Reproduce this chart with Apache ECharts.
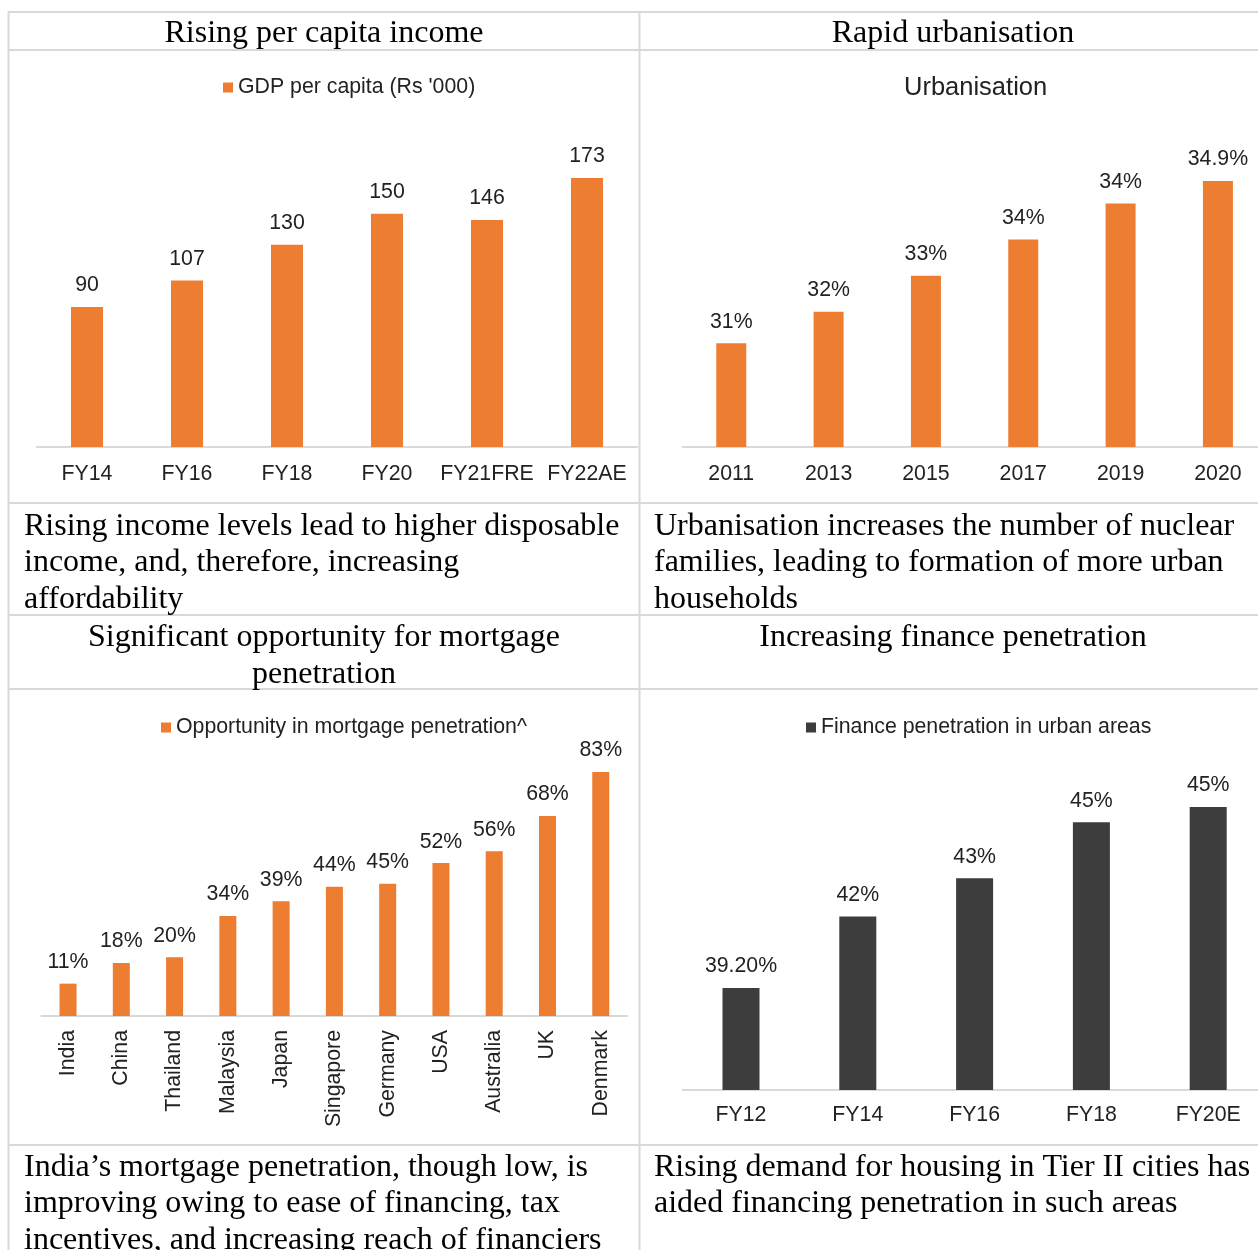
<!DOCTYPE html>
<html>
<head>
<meta charset="utf-8">
<script src="https://cdn.jsdelivr.net/npm/echarts@6/dist/echarts.min.js"></script>
<style>
html,body{margin:0;padding:0;background:#fff;overflow:hidden;width:1258px;height:1250px;}
#c{width:1272px;height:1250px;}
</style>
</head>
<body>
<div id="c"></div>
<script>
// ---------- data ----------
const incomeName = "GDP per capita (Rs '000)";
const incomeCats = ['FY14', 'FY16', 'FY18', 'FY20', 'FY21FRE', 'FY22AE'];
const incomeVals = [90, 107, 130, 150, 146, 173];

const urbanTitle = 'Urbanisation';
const urbanCats = ['2011', '2013', '2015', '2017', '2019', '2020'];
const urbanVals = [31.3, 32.0, 32.8, 33.6, 34.4, 34.9];
const urbanLabels = ['31%', '32%', '33%', '34%', '34%', '34.9%'];

const mortgageName = 'Opportunity in mortgage penetration^';
const mortgageCats = ['India', 'China', 'Thailand', 'Malaysia', 'Japan', 'Singapore', 'Germany', 'USA', 'Australia', 'UK', 'Denmark'];
const mortgageVals = [11, 18, 20, 34, 39, 44, 45, 52, 56, 68, 83];

const financeName = 'Finance penetration in urban areas';
const financeCats = ['FY12', 'FY14', 'FY16', 'FY18', 'FY20E'];
const financeVals = [39.2, 42.0, 43.5, 45.7, 46.3];
const financeLabels = ['39.20%', '42%', '43%', '45%', '45%'];

const headers = ['Rising per capita income', 'Rapid urbanisation',
  ['Significant opportunity for mortgage', 'penetration'], ['Increasing finance penetration']];
const captions = [
  ['Rising income levels lead to higher disposable', 'income, and, therefore, increasing', 'affordability'],
  ['Urbanisation increases the number of nuclear', 'families, leading to formation of more urban', 'households'],
  ['India\u2019s mortgage penetration, though low, is', 'improving owing to ease of financing, tax', 'incentives, and increasing reach of financiers'],
  ['Rising demand for housing in Tier II cities has', 'aided financing penetration in such areas']
];

// ---------- styles ----------
const ORANGE = '#ED7D31';
const DARK = '#3D3D3D';
const SANS = '"Liberation Sans", Arial, sans-serif';
const SERIF = '"Liberation Serif", "Times New Roman", serif';
const TXT = '#222';
const GRID_LINE = '#d9d9d9';
const FS = 21.3;

// ---------- table graphics ----------
const graphics = [];
function hline(y) {
  graphics.push({type: 'line', shape: {x1: 8, y1: y, x2: 1272, y2: y}, style: {stroke: GRID_LINE, lineWidth: 2}, silent: true});
}
function vline(x) {
  graphics.push({type: 'line', shape: {x1: x, y1: 11, x2: x, y2: 1250}, style: {stroke: GRID_LINE, lineWidth: 2}, silent: true});
}
[12, 50, 503, 615, 689, 1145].forEach(hline);
[8.5, 639.5].forEach(vline);

function text(str, x, y, align) {
  graphics.push({type: 'text', x: x, y: y, silent: true,
    style: {text: str, fontFamily: SERIF, fontSize: 32, fill: '#000', align: align, verticalAlign: 'middle'}});
}
const LH = 36.5;
text(headers[0], 324, 34, 'center');
text(headers[1], 953, 34, 'center');
headers[2].forEach((t, i) => text(t, 324, 638 + i * LH, 'center'));
headers[3].forEach((t, i) => text(t, 953, 638 + i * LH, 'center'));
captions[0].forEach((t, i) => text(t, 24, 526.5 + i * LH, 'left'));
captions[1].forEach((t, i) => text(t, 654, 526.5 + i * LH, 'left'));
captions[2].forEach((t, i) => text(t, 24, 1167.5 + i * LH, 'left'));
captions[3].forEach((t, i) => text(t, 654, 1167.5 + i * LH, 'left'));

// ---------- axes helpers ----------
function xAx(idx, cats, margin, rotate) {
  return {
    type: 'category', gridIndex: idx, data: cats,
    axisLine: {show: true, lineStyle: {color: GRID_LINE, width: 2}},
    axisTick: {show: false},
    axisLabel: {interval: 0, margin: margin, rotate: rotate || 0, fontSize: FS, fontFamily: SANS, color: TXT},
    splitLine: {show: false}
  };
}
function yAx(idx, min, max) {
  return {type: 'value', gridIndex: idx, min: min, max: max, show: false, splitLine: {show: false}};
}
const lblBase = {show: true, position: 'top', distance: 11, fontSize: FS, fontFamily: SANS, color: TXT};
const legBase = {padding: 0, icon: 'rect', itemWidth: 10, itemHeight: 10, selectedMode: false,
  textStyle: {fontSize: FS, fontFamily: SANS, color: TXT}};

const option = {
  backgroundColor: '#fff',
  animation: false,
  title: [{
    text: urbanTitle, left: 904, top: 74.5, padding: 0,
    textStyle: {fontSize: 25.5, fontWeight: 'normal', fontFamily: SANS, color: TXT}
  }],
  legend: [
    Object.assign({data: [incomeName], left: 223, top: 77}, legBase),
    Object.assign({data: [mortgageName], left: 161, top: 717}, legBase),
    Object.assign({data: [financeName], left: 806, top: 717}, legBase)
  ],
  grid: [
    {left: 37, top: 136, width: 600, height: 311},
    {left: 682.6, top: 131.4, width: 584, height: 315.6},
    {left: 41.4, top: 722, width: 586, height: 294},
    {left: 682.6, top: 763.6, width: 584, height: 326.4}
  ],
  xAxis: [
    xAx(0, incomeCats, 17),
    xAx(1, urbanCats, 17),
    xAx(2, mortgageCats, 14, 90),
    xAx(3, financeCats, 15)
  ],
  yAxis: [
    yAx(0, 0, 200),
    yAx(1, 29, 36),
    yAx(2, 0, 100),
    yAx(3, 35.2, 48)
  ],
  graphic: graphics,
  series: [
    {name: incomeName, type: 'bar', xAxisIndex: 0, yAxisIndex: 0, data: incomeVals, barWidth: 32,
      itemStyle: {color: ORANGE}, label: Object.assign({}, lblBase, {formatter: '{c}'})},
    {name: urbanTitle, type: 'bar', xAxisIndex: 1, yAxisIndex: 1, data: urbanVals, barWidth: 30,
      itemStyle: {color: ORANGE}, label: Object.assign({}, lblBase, {formatter: p => urbanLabels[p.dataIndex]})},
    {name: mortgageName, type: 'bar', xAxisIndex: 2, yAxisIndex: 2, data: mortgageVals, barWidth: 17,
      itemStyle: {color: ORANGE}, label: Object.assign({}, lblBase, {formatter: '{c}%'})},
    {name: financeName, type: 'bar', xAxisIndex: 3, yAxisIndex: 3, data: financeVals, barWidth: 37,
      itemStyle: {color: DARK}, label: Object.assign({}, lblBase, {formatter: p => financeLabels[p.dataIndex]})}
  ]
};

const chart = echarts.init(document.getElementById('c'), null, {renderer: 'canvas'});
chart.setOption(option);
</script>
</body>
</html>
